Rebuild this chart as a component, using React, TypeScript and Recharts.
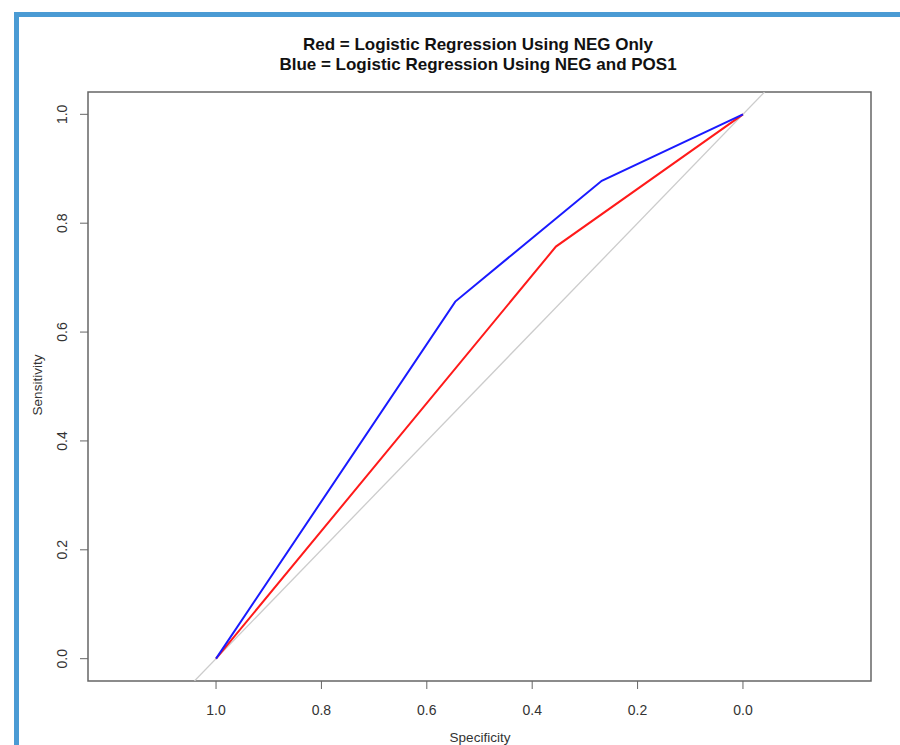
import React from "react";
import { ComposedChart, Line, XAxis, YAxis, ReferenceArea } from "recharts";

const specRed = [1, 0.355, 0];
const sensRed = [0, 0.757, 1];
const specBlue = [1, 0.546, 0.268, 0];
const sensBlue = [0, 0.656, 0.878, 1];
const diagSpec = [1.041, -0.041];
const diagSens = [-0.041, 1.041];
const xTicks = [0, 0.2, 0.4, 0.6, 0.8, 1.0];
const yTicks = [0, 0.2, 0.4, 0.6, 0.8, 1.0];
const titleLines = [
  "Red = Logistic Regression Using NEG Only",
  "Blue = Logistic Regression Using NEG and POS1",
];

const redData = specRed.map((s, i) => ({ spec: s, sens: sensRed[i] }));
const blueData = specBlue.map((s, i) => ({ spec: s, sens: sensBlue[i] }));
const diagData = diagSpec.map((s, i) => ({ spec: s, sens: diagSens[i] }));

const X_MIN = -0.243;
const X_MAX = 1.243;
const Y_MIN = -0.041;
const Y_MAX = 1.041;

const FONT = '"Liberation Sans", Arial, sans-serif';

const XTick = (props: any) => {
  const { x, y, payload } = props;
  return (
    <text x={x} y={y + 21} textAnchor="middle" dominantBaseline="central" fontSize={14} fill="#333" fontFamily={FONT}>
      {payload.value.toFixed(1)}
    </text>
  );
};

const YTick = (props: any) => {
  const { x, y, payload } = props;
  const cx = x - 18;
  return (
    <text x={cx} y={y} textAnchor="middle" dominantBaseline="central" fontSize={14} fill="#333" fontFamily={FONT} transform={`rotate(-90, ${cx}, ${y})`}>
      {payload.value.toFixed(1)}
    </text>
  );
};

export default function App() {
  return (
    <div style={{ position: "absolute", left: 0, top: 0, width: 900, height: 745, background: "#fff", overflow: "hidden" }}>
      <div style={{ position: "absolute", left: 14, top: 12, width: 5, height: 733, background: "#4a9bd4" }} />
      <div style={{ position: "absolute", left: 14, top: 12, width: 886, height: 5, background: "#4a9bd4" }} />
      {titleLines.map((t, i) => (
        <div
          key={i}
          style={{
            position: "absolute",
            left: 0,
            width: 956,
            top: 35 + i * 20,
            height: 20,
            lineHeight: "20px",
            textAlign: "center",
            fontFamily: FONT,
            fontWeight: "bold",
            fontSize: 17,
            color: "#111",
          }}
        >
          {t}
        </div>
      ))}
      <div style={{ position: "absolute", left: 0, top: 0 }}>
        <ComposedChart width={900} height={745} margin={{ top: 92, right: 29, left: 0, bottom: 0 }}>
          <XAxis
            dataKey="spec"
            type="number"
            reversed
            domain={[X_MIN, X_MAX]}
            allowDataOverflow
            ticks={xTicks}
            tick={<XTick />}
            tickSize={8}
            tickMargin={0}
            axisLine={false}
            tickLine={{ stroke: "#666" }}
            height={64}
            label={{
              content: () => (
                <text x={480} y={737} textAnchor="middle" dominantBaseline="central" fontSize={13.5} fill="#333" fontFamily={FONT}>
                  Specificity
                </text>
              ),
            }}
          />
          <YAxis
            dataKey="sens"
            type="number"
            domain={[Y_MIN, Y_MAX]}
            allowDataOverflow
            ticks={yTicks}
            tick={<YTick />}
            tickSize={8}
            tickMargin={0}
            axisLine={false}
            tickLine={{ stroke: "#666" }}
            width={88}
            label={{
              content: () => (
                <text x={37} y={385} textAnchor="middle" dominantBaseline="central" fontSize={13.5} fill="#333" fontFamily={FONT} transform="rotate(-90, 37, 385)">
                  Sensitivity
                </text>
              ),
            }}
          />
          <ReferenceArea x1={X_MIN} x2={X_MAX} y1={Y_MIN} y2={Y_MAX} fill="none" stroke="#666" strokeWidth={1.5} ifOverflow="visible" />
          <Line data={diagData} dataKey="sens" stroke="#cccccc" strokeWidth={1.3} dot={false} isAnimationActive={false} />
          <Line data={redData} dataKey="sens" stroke="#ff1a1a" strokeWidth={2} dot={false} isAnimationActive={false} />
          <Line data={blueData} dataKey="sens" stroke="#1a1aff" strokeWidth={2} dot={false} isAnimationActive={false} />
        </ComposedChart>
      </div>
    </div>
  );
}
